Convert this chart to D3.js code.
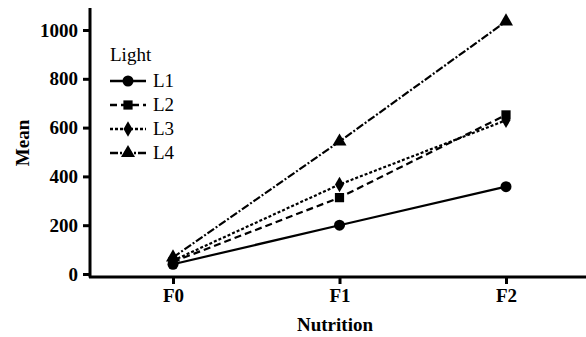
<!DOCTYPE html>
<html><head><meta charset="utf-8">
<script src="https://cdn.jsdelivr.net/npm/d3@7"></script>
<style>body{margin:0;background:#fff}svg{display:block}</style>
</head><body><svg id="c" width="586" height="337"></svg>
<script>
const categories = ["F0","F1","F2"];
const seriesNames = ["L1","L2","L3","L4"];
const L1 = [40, 200, 358];
const L2 = [50, 313, 652];
const L3 = [55, 367, 630];
const L4 = [68, 543, 1035];
const yTicks = [0,200,400,600,800,1000];
const seriesValues = [L1,L2,L3,L4];
const dashes = [null, "7,4", "3,2", "8,2,2,2"];
const symbols = [d3.symbolCircle, d3.symbolSquare, d3.symbolDiamond, d3.symbolTriangle];
const symSizes = [95, 85, 70, 85];
const FONT = "Liberation Serif, Times New Roman, serif";

const svg = d3.select("#c").attr("font-family", FONT);
const x = d3.scalePoint().domain(categories).range([173, 506]);
const y = d3.scaleLinear().domain([0,1000]).range([274, 30]);

const yAxis = svg.append("g").attr("transform","translate(90,0)")
  .call(d3.axisLeft(y).tickValues(yTicks).tickFormat(d3.format("d")).tickSize(7).tickPadding(5));
yAxis.select(".domain").attr("d","M0,8V277.5");
const xAxis = svg.append("g").attr("transform","translate(0,277)")
  .call(d3.axisBottom(x).tickSize(7).tickPadding(5));
xAxis.select(".domain").attr("d","M89,0H586");
svg.selectAll("g").attr("font-family", FONT);
svg.selectAll(".domain,.tick line").attr("stroke","#000").attr("stroke-width",3);
svg.selectAll(".tick text").attr("font-size",19).attr("font-weight","bold").attr("fill","#000")
  .attr("font-family", FONT);

svg.append("text").attr("transform","translate(29,143) rotate(-90)").attr("text-anchor","middle")
  .attr("font-family", FONT).attr("font-size",19).attr("font-weight","bold").text("Mean");
svg.append("text").attr("x",335).attr("y",331).attr("text-anchor","middle")
  .attr("font-family", FONT).attr("font-size",19).attr("font-weight","bold").text("Nutrition");

const line = d3.line().x((d,i)=>x(categories[i])).y(d=>y(d));
seriesValues.forEach((vals,k)=>{
  svg.append("path").attr("d",line(vals)).attr("fill","none").attr("stroke","#000")
    .attr("stroke-width",2.2).attr("stroke-dasharray",dashes[k]);
  svg.selectAll(null).data(vals).enter().append("path")
    .attr("d",d3.symbol().type(symbols[k]).size(symSizes[k]))
    .attr("transform",(d,i)=>`translate(${x(categories[i])},${y(d)})`)
    .attr("fill","#000");
});

const lg = svg.append("g").attr("font-family", FONT);
lg.append("text").attr("x",110).attr("y",61).attr("font-size",19).attr("font-family", FONT).text("Light");
seriesNames.forEach((n,k)=>{
  const yy = 81 + k*24;
  lg.append("line").attr("x1",110).attr("x2",146).attr("y1",yy).attr("y2",yy)
    .attr("stroke","#000").attr("stroke-width",2.5).attr("stroke-dasharray",dashes[k]);
  lg.append("path").attr("d",d3.symbol().type(symbols[k]).size(symSizes[k]))
    .attr("transform",`translate(128,${yy})`).attr("fill","#000");
  lg.append("text").attr("x",153).attr("y",yy+6).attr("font-size",19).attr("font-family", FONT).text(n);
});
</script></body></html>
